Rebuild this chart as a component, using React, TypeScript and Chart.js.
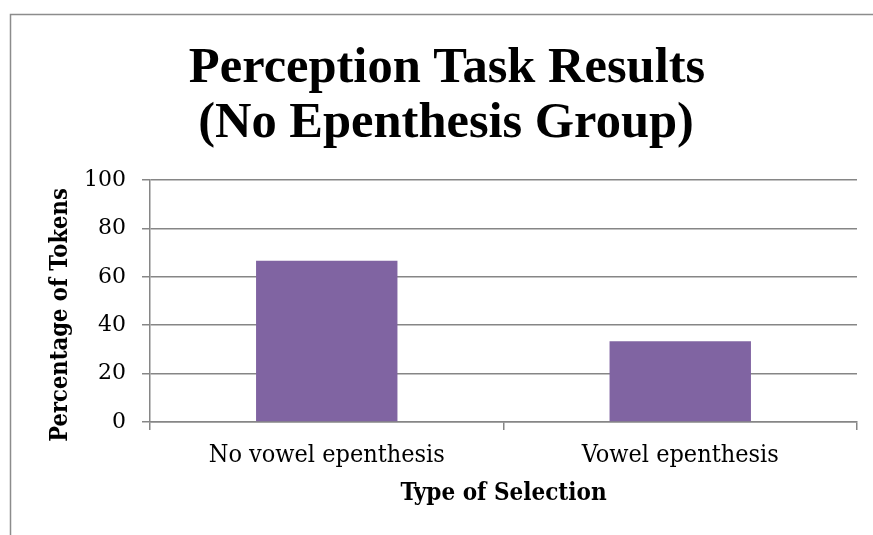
import React, { useEffect, useRef } from "react";
import { Chart, registerables } from "chart.js";

Chart.register(...registerables);

const categories = ["No vowel epenthesis", "Vowel epenthesis"];
const percentages = [66.67, 33.33];
const titleLines = ["Perception Task Results", "(No Epenthesis Group)"];
const yAxisTitle = "Percentage of Tokens";
const xAxisTitle = "Type of Selection";
const yMin = 0;
const yMax = 100;
const yStep = 20;

const BAR_COLOR = "#8064A2";
const GRID_COLOR = "#868686";
const FRAME_COLOR = "#8c8c8c";
const CONDENSED = "'DejaVu Serif Condensed', 'DejaVu Serif'";

const framePlugin = {
  id: "frameAndTitle",
  beforeDraw(chart: any) {
    const ctx = chart.ctx;
    ctx.save();
    ctx.fillStyle = "#ffffff";
    ctx.fillRect(0, 0, chart.width, chart.height);
    ctx.strokeStyle = FRAME_COLOR;
    ctx.lineWidth = 1.5;
    ctx.strokeRect(10.5, 14.5, chart.width + 20, chart.height + 20);
    ctx.fillStyle = "#000";
    ctx.font = "bold 50.5px 'Liberation Serif'";
    ctx.textAlign = "center";
    ctx.textBaseline = "alphabetic";
    ctx.fillText(titleLines[0], 447, 82);
    ctx.fillText(titleLines[1], 446, 137);
    // y axis title
    ctx.translate(61, 315);
    ctx.rotate(-Math.PI / 2);
    ctx.font = "bold 23.5px " + CONDENSED;
    ctx.textBaseline = "middle";
    ctx.fillText(yAxisTitle, 0, 0);
    ctx.restore();
  },
};

export default function App() {
  const ref = useRef<HTMLCanvasElement>(null);
  useEffect(() => {
    if (!ref.current) return;
    const chart = new Chart(ref.current, {
      type: "bar",
      data: {
        labels: categories,
        datasets: [
          {
            data: percentages,
            backgroundColor: BAR_COLOR,
            borderWidth: 0,
            barPercentage: 0.4,
            categoryPercentage: 1,
          },
        ],
      },
      options: {
        responsive: false,
        animation: false,
        devicePixelRatio: 1,
        layout: { padding: { left: 10, right: 16, top: 180, bottom: 0 } },
        plugins: {
          legend: { display: false },
          title: { display: false },
          tooltip: { enabled: false },
        },
        scales: {
          x: {
            offset: true,
            grid: {
              offset: true,
              drawOnChartArea: false,
              drawTicks: true,
              tickLength: 8,
              color: GRID_COLOR,
              lineWidth: 1.5,
            },
            border: { display: true, color: GRID_COLOR, width: 1.5 },
            ticks: {
              color: "#000",
              font: { family: CONDENSED, size: 25 },
              padding: 10,
              maxRotation: 0,
            },
            title: {
              display: true,
              text: xAxisTitle,
              color: "#000",
              font: { family: CONDENSED, size: 24, weight: "bold" },
              padding: { top: 0, bottom: 27 },
            },
            afterFit: (s: any) => {
              s.height = 113;
            },
          },
          y: {
            min: yMin,
            max: yMax,
            ticks: {
              stepSize: yStep,
              color: "#000",
              font: { family: "'DejaVu Serif'", size: 22 },
              padding: 16,
            },
            grid: {
              color: GRID_COLOR,
              lineWidth: 1.5,
              tickLength: 8,
            },
            border: { display: true, color: GRID_COLOR, width: 1.5 },
            title: { display: false },
            afterFit: (s: any) => {
              s.width = 140;
            },
          },
        },
      },
      plugins: [framePlugin],
    });
    return () => chart.destroy();
  }, []);
  return (
    <div style={{ position: "fixed", left: 0, top: 0, width: 873, height: 535 }}>
      <canvas ref={ref} width={873} height={535} style={{ display: "block" }} />
    </div>
  );
}
